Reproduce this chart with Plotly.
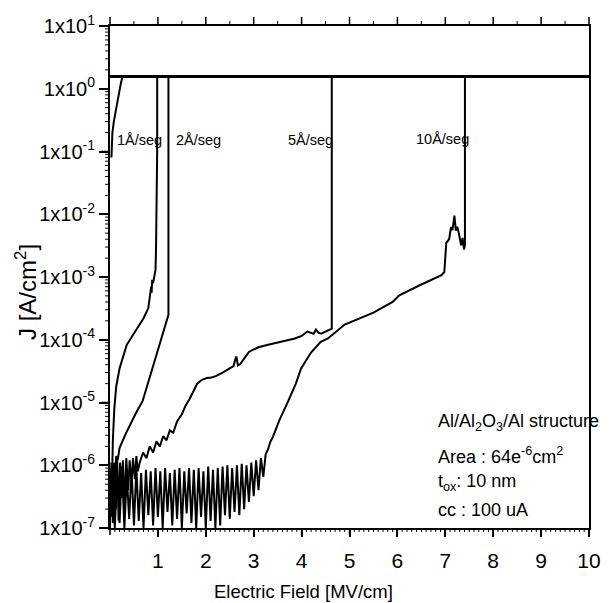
import math
import plotly.graph_objects as go

# ---------------- data ----------------
J_CC = 1.5625  # compliance current density (100 uA / 64e-6 cm2)
cc_x = [0.0, 10.0]
cc_J = [J_CC, J_CC]

# 1 A/seg sweep
x1 = [0.0, 0.01, 0.02, 0.03, 0.04, 0.06, 0.09, 0.13, 0.2, 0.35, 0.5, 0.6, 0.7, 0.8, 0.84, 0.86,
      0.87, 0.88, 0.9, 0.93, 0.95, 0.96, 0.975, 0.985, 0.985, 10.0]
J1 = [1e-7, 6e-7, 1.5e-7, 9e-7, 5e-7, 2.5e-6, 8e-6, 1.8e-5, 3.5e-5, 8.3e-5, 1.26e-4, 1.6e-4,
      2.2e-4, 3.2e-4, 5e-4, 7e-4, 5.6e-4, 9e-4, 8e-4, 1.1e-3, 1.3e-3, 2.5e-3, 1e-2, 0.1, J_CC, J_CC]

# post-breakdown sweep near the origin
x1b = [0.03, 0.05, 0.08, 0.12, 0.17, 0.22, 0.26]
J1b = [0.08, 0.2, 0.3, 0.45, 0.74, 1.15, J_CC]

# 2 A/seg sweep
x2 = [0.0, 0.02, 0.03, 0.05, 0.07, 0.09, 0.1, 0.13, 0.16, 0.2, 0.33, 0.45, 0.55, 0.68, 0.82,
      0.95, 1.06, 1.15, 1.22, 1.22, 10.0]
J2 = [1.5e-7, 8e-7, 2e-7, 1.0e-6, 3e-7, 1.1e-6, 6e-7, 1.4e-6, 1.2e-6, 1.9e-6, 3.2e-6, 5.0e-6,
      7.0e-6, 1.05e-5, 2.4e-5, 5.2e-5, 1.05e-4, 1.8e-4, 2.5e-4, J_CC, J_CC]

# 5 A/seg sweep
x5 = [0.0, 0.03, 0.06, 0.09, 0.12, 0.15, 0.18, 0.21, 0.24, 0.27, 0.30, 0.34, 0.38, 0.41, 0.45,
      0.48, 0.52, 0.55, 0.58, 0.62, 0.69, 0.76, 0.83, 0.9,
      0.97, 1.04, 1.11, 1.18, 1.25, 1.32, 1.4, 1.5, 1.58, 1.65, 1.74, 1.82, 1.92, 2.02, 2.12,
      2.22, 2.35, 2.49, 2.58, 2.62, 2.64, 2.67, 2.72, 2.8, 2.9, 3.0, 3.1, 3.3, 3.45, 3.6, 3.75,
      3.86, 4.0, 4.12, 4.25, 4.3, 4.35, 4.41, 4.5, 4.6, 4.63, 4.63, 10.0]
J5 = [2e-7, 1.1e-6, 1.2e-7, 1.0e-6, 2e-7, 1.2e-6, 1.3e-7, 1.1e-6, 3e-7, 1.2e-6, 2.2e-7,
      1.3e-6, 4e-7, 1.2e-6, 5e-7, 1.3e-6, 6e-7, 1.4e-6, 8e-7, 1.1e-6, 1.6e-6,
      1.3e-6, 2.0e-6, 1.6e-6, 2.4e-6, 2.0e-6, 2.9e-6, 2.5e-6, 3.6e-6, 3.3e-6, 5.0e-6, 6.5e-6,
      9.0e-6, 1.1e-5, 1.5e-5, 2.0e-5, 2.3e-5, 2.45e-5, 2.5e-5, 2.65e-5, 3.0e-5, 3.5e-5, 3.8e-5,
      5.0e-5, 5.4e-5, 3.9e-5, 4.1e-5, 5.0e-5, 6.4e-5, 7.0e-5, 7.6e-5, 8.3e-5, 8.8e-5, 9.5e-5,
      1.0e-4, 1.05e-4, 1.15e-4, 1.35e-4, 1.25e-4, 1.45e-4, 1.3e-4, 1.25e-4, 1.35e-4, 1.45e-4,
      1.5e-4, J_CC, J_CC]

# 10 A/seg sweep (noisy low-field part followed by the rise)
x10 = [0.00, 0.05, 0.10, 0.15, 0.20, 0.25, 0.30, 0.35, 0.40, 0.45, 0.50, 0.55, 0.60, 0.65,
       0.70, 0.75, 0.80, 0.85, 0.90, 0.95, 1.00, 1.05, 1.10, 1.15, 1.20, 1.25, 1.30, 1.35,
       1.40, 1.45, 1.50, 1.55, 1.60, 1.65, 1.70, 1.75, 1.80, 1.85, 1.90, 1.95, 2.00, 2.05,
       2.10, 2.15, 2.20, 2.25, 2.30, 2.35, 2.40, 2.45, 2.50, 2.55, 2.60, 2.65, 2.70, 2.75,
       2.80, 2.85, 2.90, 2.95, 3.00, 3.05, 3.10, 3.15, 3.20, 3.25, 3.30, 3.35, 3.40, 3.53,
       3.72, 3.88, 3.99, 4.20, 4.40, 4.55, 4.90, 5.20, 5.50, 5.90, 6.04, 6.50, 6.92, 6.98,
       7.02, 7.08, 7.12, 7.15, 7.19, 7.22, 7.25, 7.28, 7.33, 7.36, 7.39, 7.41, 7.41, 10.0]
J10 = [3e-7, 9e-7, 1.0e-7, 8e-7, 1.2e-7, 9.5e-7, 1.0e-7, 7e-7, 1.4e-7, 8.5e-7, 1.1e-7, 9e-7,
       1.3e-7, 7.5e-7, 1.0e-7, 8.5e-7, 1.6e-7, 8e-7, 1.1e-7, 9e-7, 1.5e-7, 8e-7, 1.0e-7, 9e-7,
       1.8e-7, 7.5e-7, 1.1e-7, 8.5e-7, 1.4e-7, 9e-7, 1.0e-7, 8e-7, 1.7e-7, 9e-7, 1.2e-7,
       8.5e-7, 1.0e-7, 9e-7, 1.5e-7, 8e-7, 1.0e-7, 9.5e-7, 1.3e-7, 8.5e-7, 1.0e-7, 9e-7,
       1.1e-7, 9.5e-7, 1.6e-7, 1.0e-6, 1.4e-7, 9e-7, 1.8e-7, 1.0e-6, 1.6e-7, 1.05e-6, 2.0e-7,
       1.0e-6, 2.6e-7, 1.1e-6, 3.2e-7, 1.2e-6, 4.0e-7, 1.3e-6, 6.5e-7, 1.5e-6, 1.8e-6, 2.4e-6,
       2.8e-6, 5.1e-6, 1.05e-5, 2.0e-5, 3.5e-5, 6.3e-5, 9.3e-5, 1.05e-4, 1.75e-4, 2.2e-4,
       2.7e-4, 4.0e-4, 5.1e-4, 7.6e-4, 1.07e-3, 1.2e-3, 3.5e-3, 4.0e-3, 6.3e-3, 5.6e-3, 9.5e-3,
       5.5e-3, 6.3e-3, 5.1e-3, 3.2e-3, 4.2e-3, 2.75e-3, 3.2e-3, J_CC, J_CC]

y_tickvals = [1e-7, 1e-6, 1e-5, 1e-4, 1e-3, 1e-2, 1e-1, 1e0, 1e1]
y_ticktext = ["1x10<sup>-7</sup>", "1x10<sup>-6</sup>", "1x10<sup>-5</sup>", "1x10<sup>-4</sup>",
              "1x10<sup>-3</sup>", "1x10<sup>-2</sup>", "1x10<sup>-1</sup>", "1x10<sup>0</sup>",
              "1x10<sup>1</sup>"]
x_tickvals = [1, 2, 3, 4, 5, 6, 7, 8, 9, 10]

rate_labels = ["1Å/seg", "2Å/seg", "5Å/seg", "10Å/seg"]
rate_label_x = [0.1, 1.33, 3.68, 6.35]
rate_label_y = [0.15, 0.15, 0.15, 0.16]

info_lines = ["Al/Al<sub>2</sub>O<sub>3</sub>/Al structure",
              "Area : 64e<sup>-6</sup>cm<sup>2</sup>",
              "t<sub>ox</sub>: 10 nm",
              "cc : 100 uA"]
info_y = [4.8e-6, 1.42e-6, 5.4e-7, 1.95e-7]
info_x = 6.8

x_title = "Electric Field [MV/cm]"
y_title = "J [A/cm<sup>2</sup>]"

FONT = "Liberation Sans, Arial, sans-serif"

# ---------------- layout geometry ----------------
W, H = 613, 603
ML, MR, MT, MB = 110, 12, 22, 75
PW, PH = W - ML - MR, H - MT - MB
X_RANGE = [0, 10]
Y_RANGE = [-7, 1]  # log10


def xp(v):  # axis value -> paper fraction (linear axis)
    return (v - X_RANGE[0]) / (X_RANGE[1] - X_RANGE[0])


def yp(v):  # axis value -> paper fraction (log axis)
    return (math.log10(v) - Y_RANGE[0]) / (Y_RANGE[1] - Y_RANGE[0])


# ---------------- figure ----------------
fig = go.Figure()
line_style = dict(color="black", width=2)
for xs, ys in [(x10, J10), (x5, J5), (x2, J2), (x1, J1), (x1b, J1b)]:
    fig.add_trace(go.Scatter(x=xs, y=ys, mode="lines", line=line_style,
                             showlegend=False, hoverinfo="skip"))
fig.add_trace(go.Scatter(x=cc_x, y=cc_J, mode="lines", line=dict(color="black", width=3),
                         showlegend=False, hoverinfo="skip"))

# ---- tick marks (minor ticks and the top axis) drawn as paper-referenced shapes ----
shapes = []


def tick(x0, y0, x1_, y1_, w):
    shapes.append(dict(type="line", xref="paper", yref="paper", x0=x0, y0=y0, x1=x1_, y1=y1_,
                       line=dict(color="black", width=w), layer="above"))


# bottom axis: majors every 1, minors every 0.1 (pointing down)
for i in range(0, 101):
    v = i / 10
    major = (i % 10 == 0)
    L = (7 if major else 4) / PH
    tick(xp(v), 0, xp(v), -L, 1.5 if major else 1)
# top axis: majors every 1, minors every 0.5 (pointing up)
for i in range(0, 21):
    v = i / 2
    major = (i % 2 == 0)
    L = (9 if major else 5) / PH
    tick(xp(v), 1, xp(v), 1 + L, 1.5 if major else 1)
# left axis: decades + 2..9 minors (pointing left)
for n in range(-7, 2):
    tick(0, yp(10.0 ** n), -9 / PW, yp(10.0 ** n), 1.5)
    if n < 1:
        for d in range(2, 10):
            v = d * 10.0 ** n
            tick(0, yp(v), -5 / PW, yp(v), 1)

for t, xx, yy in zip(rate_labels, rate_label_x, rate_label_y):
    fig.add_annotation(x=xx, y=math.log10(yy), yref="y", xref="x", text=t, showarrow=False,
                       xanchor="left", yanchor="middle",
                       font=dict(family=FONT, size=14.5, color="black"))
for t, yy in zip(info_lines, info_y):
    fig.add_annotation(x=info_x, y=math.log10(yy), xref="x", yref="y", text=t,
                       showarrow=False, xanchor="left", yanchor="middle",
                       font=dict(family=FONT, size=18, color="black"))

# axis titles
fig.add_annotation(x=(308 - ML) / PW, y=-(592 - (MT + PH)) / PH, xref="paper", yref="paper",
                   text=x_title, showarrow=False, xanchor="center", yanchor="middle",
                   font=dict(family=FONT, size=18.5, color="black"))
fig.add_annotation(x=(24 - ML) / PW, y=((MT + PH) - 290) / PH, xref="paper", yref="paper",
                   text=y_title, showarrow=False, xanchor="center", yanchor="middle",
                   textangle=-90, font=dict(family=FONT, size=24, color="black"))

fig.update_layout(
    width=W, height=H,
    margin=dict(l=ML, r=MR, t=MT, b=MB),
    paper_bgcolor="white", plot_bgcolor="white",
    font=dict(family=FONT, color="black"),
    shapes=shapes,
    xaxis=dict(range=X_RANGE, tickmode="array", tickvals=x_tickvals,
               ticks="outside", ticklen=7, tickwidth=1.5, tickcolor="black",
               showline=True, linewidth=2, linecolor="black", showgrid=False, zeroline=False,
               mirror=True, tickfont=dict(size=21), ticklabelstandoff=6),
    yaxis=dict(type="log", range=Y_RANGE, tickmode="array", tickvals=y_tickvals,
               ticktext=y_ticktext, ticks="outside", ticklen=9, tickwidth=1.5,
               tickcolor="black",
               showline=True, mirror=True, linewidth=2, linecolor="black", showgrid=False,
               zeroline=False, tickfont=dict(size=20)),
)

fig.write_html("out.html")
